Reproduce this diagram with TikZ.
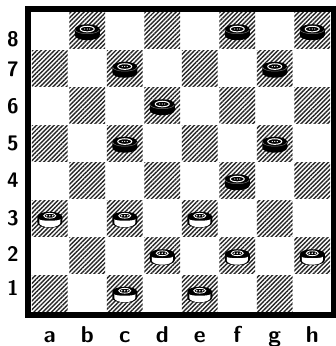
\documentclass[tikz,border=0pt]{standalone}
\usetikzlibrary{patterns.meta}
\tikzset{
  hatch/.style={pattern={Lines[angle=45,distance=3.1pt,line width=1.4pt]},pattern color=black!85},
  ranklabel/.style={font=\sffamily\bfseries\fontsize{21}{23}\selectfont,inner sep=0pt},
  filelabel/.style={font=\sffamily\bfseries\fontsize{23}{25}\selectfont,inner sep=0pt,anchor=base},
  blackman/.pic={
    \fill[black] (-12.5,3) arc[start angle=180,end angle=0,x radius=12.5,y radius=5]
      -- (12.5,-3) arc[start angle=0,end angle=-180,x radius=12.5,y radius=5] -- cycle;
    \draw[black!55,line width=0.5] (-12,2.5) arc[start angle=180,end angle=360,x radius=12,y radius=4];
    \draw[white,line width=1] (0,3.2) ellipse[x radius=7,y radius=2.8];
    \fill[white] (-2.5,3.2) circle (0.7) (0,3.2) circle (0.7) (2.5,3.2) circle (0.7);
  },
  whiteman/.pic={
    \fill[black] (-12.5,3) arc[start angle=180,end angle=0,x radius=12.5,y radius=5]
      -- (12.5,-3) arc[start angle=0,end angle=-180,x radius=12.5,y radius=5] -- cycle;
    \fill[white] (-10.5,0.5) -- (-10.5,-3) arc[start angle=180,end angle=360,x radius=10.5,y radius=4.5]
      -- (10.5,0.5) arc[start angle=0,end angle=-180,x radius=10.5,y radius=1.5] -- cycle;
    \draw[white,line width=0.8] (0,4) ellipse[x radius=6,y radius=2.4];
    \fill[white] (-3,4) circle (0.9) (0,4) circle (0.9) (3,4) circle (0.9);
  }
}
\begin{document}
\begin{tikzpicture}[x=1pt,y=1pt]
\useasboundingbox (0,0) rectangle (336,346);
\fill[white] (0,0) rectangle (336,346);
\foreach \f in {1,...,8}
  \foreach \r in {1,...,8}{
    \pgfmathtruncatemacro\odd{mod(\f+\r,2)}
    \ifnum\odd=0
      \fill[hatch] ({31.8+(\f-1)*37.5},{34.8+(\r-1)*37.5}) rectangle ++(35.9,35.9);
    \fi
  }
\draw[line width=6] (28,31) rectangle (334,337);
\foreach \f/\r in {2/8,6/8,8/8,3/7,7/7,4/6,3/5,7/5,6/4}
  \pic at ({31+(\f-0.5)*37.5},{32.5+(\r-0.5)*37.5}) {blackman};
\foreach \f/\r in {1/3,3/3,5/3,4/2,6/2,8/2,3/1,5/1}
  \pic at ({31+(\f-0.5)*37.5},{32.5+(\r-0.5)*37.5}) {whiteman};
\foreach \r/\y in {8/307,7/277,6/240,5/203,4/166,3/128,2/92,1/58}
  \node[ranklabel] (r\r) at (13,\y) {\r};
\foreach \l [count=\i] in {a,b,c,d,e,f,g,h}
  \node[filelabel] (f\l) at ({31+(\i-0.5)*37.5},4) {\l};
\end{tikzpicture}
\end{document}
